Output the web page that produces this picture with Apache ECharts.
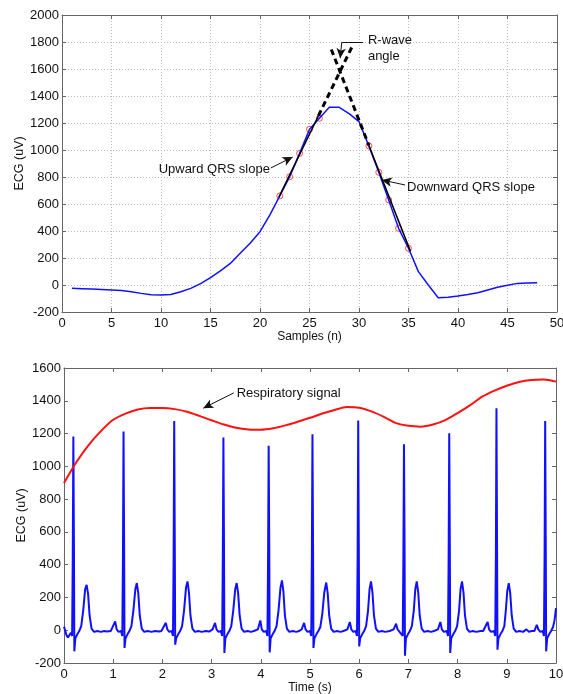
<!DOCTYPE html>
<html>
<head>
<meta charset="utf-8">
<script src="https://cdn.jsdelivr.net/npm/echarts@6/dist/echarts.min.js"></script>
<style>
  html, body { margin: 0; padding: 0; background: #fff; }
  #chart { width: 563px; height: 694px; }
</style>
</head>
<body>
<div id="chart"></div>
<script>
// top panel: one QRS complex, sample by sample
const sampleN = [1, 2, 3, 4, 5, 6, 7, 8, 9, 10, 11, 12, 13, 14, 15, 16, 17, 18, 19, 20, 21, 22, 23, 24,
  25, 26, 27, 28, 29, 30, 31, 32, 33, 34, 35, 36, 37, 38, 39, 40, 41, 42, 43, 44, 45, 46, 47, 48];
const sampleEcg = [-24, -27, -30, -33, -37, -41, -50, -62, -72, -74, -70, -50, -25, 10, 55, 105, 160, 235, 310, 395, 520, 660,
  802, 975, 1153, 1235, 1316, 1316, 1270, 1210, 1030, 835, 630, 420, 272, 99, 0, -94, -90, -81, -70, -57, -37, -17, -2, 12, 15, 17];

// red circles used for the slopes
const slopeN = [22, 23, 24, 25, 26, 31, 32, 33, 34, 35];
const slopeEcg = [660, 802, 975, 1153, 1235, 1030, 835, 630, 420, 272];

// fitted slope lines (end points in sample / uV)
const upSolid = [[21.9, 650], [25.9, 1253]];
const upDashed = [[25.9, 1253], [29.3, 1765]];
const downDashed = [[27.2, 1745], [31.0, 1034]];
const downSolid = [[31.0, 1034], [35.2, 249]];

// bottom panel: respiratory signal, every 0.25 s
const respTime = [0, 0.25, 0.5, 0.75, 1, 1.25, 1.5, 1.75, 2, 2.25, 2.5, 2.75, 3, 3.25, 3.5, 3.75, 4, 4.25, 4.5, 4.75,
  5, 5.25, 5.5, 5.75, 6, 6.25, 6.5, 6.75, 7, 7.25, 7.5, 7.75, 8, 8.25, 8.5, 8.75, 9, 9.25, 9.5, 9.75, 10];
const respValue = [898, 1025, 1130, 1215, 1284, 1322, 1347, 1356, 1356, 1349, 1333, 1308, 1281, 1255, 1235, 1225, 1223,
  1232, 1250, 1272, 1296, 1322, 1344, 1362, 1358, 1335, 1302, 1264, 1247, 1242, 1255, 1282, 1325, 1372, 1425, 1462,
  1492, 1515, 1527, 1530, 1517];

// bottom panel: ECG trace, [time s, uV], one line per beat
const ecgPoints = [
  [0, 22], [0.02, 18], [0.05, -30], [0.08, -45], [0.11, -38], [0.14, -15], [0.165, -35], [0.178, 450], [0.19, 1182], [0.202, 520], [0.21, -129], [0.23, -50], [0.27, -25], [0.31, -5], [0.35, 25], [0.39, 120], [0.43, 250], [0.46, 277], [0.49, 220], [0.52, 90], [0.56, 10], [0.61, -10], [0.68, -5], [0.75, -10], [0.82, -5], [0.87, -8],
  [0.95, -5], [0.99, 5], [1.04, 54], [1.07, 5], [1.11, -10], [1.16, -5], [1.185, -35], [1.198, 450], [1.21, 1212], [1.222, 520], [1.23, -108], [1.25, -50], [1.29, -25], [1.33, -5], [1.37, 25], [1.41, 120], [1.45, 250], [1.48, 288], [1.51, 225], [1.54, 90], [1.58, 10], [1.63, -10], [1.7, -5], [1.78, -10], [1.85, -5], [1.93, -8],
  [1.98, -5], [2.02, 5], [2.07, 45], [2.1, 5], [2.14, -10], [2.19, -5], [2.215, -35], [2.228, 450], [2.24, 1277], [2.252, 520], [2.26, -88], [2.28, -50], [2.32, -25], [2.36, -5], [2.4, 25], [2.44, 120], [2.48, 260], [2.51, 298], [2.54, 230], [2.57, 90], [2.61, 10], [2.66, -10], [2.73, -5], [2.8, -10], [2.88, -5], [2.95, -8],
  [2.98, -5], [3.02, 5], [3.07, 45], [3.1, 5], [3.14, -10], [3.19, -5], [3.215, -35], [3.228, 450], [3.24, 1176], [3.252, 520], [3.26, -139], [3.28, -50], [3.32, -25], [3.36, -5], [3.4, 25], [3.44, 120], [3.48, 250], [3.51, 288], [3.54, 225], [3.57, 90], [3.61, 10], [3.66, -10], [3.73, -5], [3.8, -10], [3.86, -5],
  [3.9, -5], [3.94, 5], [3.99, 60], [4.02, 5], [4.06, -10], [4.11, -5], [4.135, -35], [4.148, 450], [4.16, 1125], [4.172, 520], [4.18, -135], [4.2, -50], [4.24, -25], [4.28, -5], [4.32, 25], [4.36, 120], [4.4, 260], [4.43, 304], [4.46, 235], [4.49, 90], [4.53, 10], [4.58, -10], [4.65, -5], [4.72, -10], [4.78, -5],
  [4.79, -5], [4.83, 5], [4.88, 45], [4.91, 5], [4.95, -10], [5.0, -5], [5.025, -35], [5.038, 450], [5.05, 1196], [5.062, 520], [5.07, -108], [5.09, -50], [5.13, -25], [5.17, -5], [5.21, 20], [5.25, 100], [5.29, 230], [5.33, 291], [5.36, 225], [5.39, 90], [5.43, 10], [5.48, -10], [5.55, -5], [5.62, -10], [5.68, -5],
  [5.72, -5], [5.76, 5], [5.81, 50], [5.84, 5], [5.88, -10], [5.93, -5], [5.955, -35], [5.968, 450], [5.98, 1279], [5.992, 520], [6.0, -99], [6.02, -50], [6.06, -25], [6.1, -5], [6.14, 25], [6.18, 120], [6.21, 250], [6.24, 298], [6.27, 230], [6.3, 90], [6.34, 10], [6.39, -10], [6.46, -5], [6.53, -10], [6.62, -5],
  [6.66, -5], [6.7, 5], [6.75, 40], [6.78, 5], [6.82, -10], [6.86, -5], [6.885, -35], [6.898, 450], [6.91, 1135], [6.922, 520], [6.93, -155], [6.95, -50], [6.99, -25], [7.03, -5], [7.07, 25], [7.11, 120], [7.14, 250], [7.17, 298], [7.2, 230], [7.23, 90], [7.27, 10], [7.32, -10], [7.39, -5], [7.46, -10], [7.52, -5],
  [7.56, -5], [7.6, 5], [7.65, 50], [7.68, 5], [7.72, -10], [7.78, -5], [7.805, -35], [7.818, 450], [7.83, 1202], [7.842, 520], [7.85, -139], [7.87, -50], [7.91, -25], [7.95, -5], [7.99, 25], [8.03, 120], [8.06, 250], [8.09, 298], [8.12, 230], [8.15, 90], [8.19, 10], [8.24, -10], [8.31, -5], [8.38, -10], [8.47, -5],
  [8.52, -5], [8.56, 5], [8.61, 50], [8.64, 5], [8.68, -10], [8.74, -5], [8.765, -35], [8.778, 450], [8.79, 1355], [8.802, 520], [8.81, -119], [8.83, -50], [8.87, -25], [8.91, -5], [8.95, 25], [8.98, 120], [9.01, 240], [9.04, 287], [9.07, 225], [9.1, 90], [9.14, 10], [9.19, -10], [9.26, -5], [9.33, -10], [9.4, 5], [9.45, -10], [9.5, -5],
  [9.56, -5], [9.61, 33], [9.64, 5], [9.68, -10], [9.73, -5], [9.755, -35], [9.768, 450], [9.78, 1277], [9.792, 520], [9.8, -129], [9.82, -50], [9.86, -25], [9.9, -5], [9.94, 20], [9.97, 60], [10.0, 135]
];

const FONT = "Liberation Sans";
const AXIS_COLOR = "#666";

const chart = echarts.init(document.getElementById("chart"));

// matlab-like box axis: ticks inside, labels only on bottom/left
const axis = (gridIndex, position, min, max, interval, extra) => Object.assign({
  type: "value",
  gridIndex,
  position,
  min,
  max,
  interval,
  axisLine: { show: true, onZero: false, lineStyle: { color: AXIS_COLOR, width: 1 } },
  axisTick: { show: true, inside: true, length: 4, lineStyle: { color: AXIS_COLOR } },
  axisLabel: { show: false },
  splitLine: { show: false }
}, extra);

const labelStyle = (margin) => ({
  show: true,
  color: "#111",
  fontFamily: FONT,
  fontSize: 13,
  margin,
  formatter: v => String(v)
});

const gridLines = { show: true, lineStyle: { color: "#bbb", type: [1, 2], width: 1 } };

const yName = {
  name: "ECG (uV)",
  nameLocation: "middle",
  nameRotate: 90,
  nameMoveOverlap: false,
  nameGap: 36,
  nameTextStyle: { color: "#111", fontFamily: FONT, fontSize: 12.5 }
};

const option = {
  animation: false,
  backgroundColor: "#fff",
  textStyle: { fontFamily: FONT },
  grid: [
    { left: 62, top: 15, width: 495, height: 297, outerBoundsMode: "none" },
    { left: 64, top: 368, width: 492, height: 295, outerBoundsMode: "none" }
  ],
  xAxis: [
    axis(0, "bottom", 0, 50, 5, {
      axisLabel: labelStyle(5),
      splitLine: gridLines,
      name: "Samples (n)",
      nameLocation: "middle",
      nameGap: 16,
      nameTextStyle: { color: "#111", fontFamily: FONT, fontSize: 12 }
    }),
    axis(1, "bottom", 0, 10, 1, {
      axisLabel: labelStyle(5),
      name: "Time (s)",
      nameLocation: "middle",
      nameGap: 17,
      nameTextStyle: { color: "#111", fontFamily: FONT, fontSize: 12 }
    }),
    axis(0, "top", 0, 50, 5),
    axis(1, "top", 0, 10, 1)
  ],
  yAxis: [
    axis(0, "left", -200, 2000, 200, Object.assign({ axisLabel: labelStyle(3), splitLine: gridLines }, yName)),
    axis(1, "left", -200, 1600, 200, Object.assign({ axisLabel: labelStyle(3) }, yName)),
    axis(0, "right", -200, 2000, 200),
    axis(1, "right", -200, 1600, 200)
  ],
  series: [
    {
      name: "ECG samples",
      type: "line",
      xAxisIndex: 0,
      yAxisIndex: 0,
      data: sampleN.map((n, i) => [n, sampleEcg[i]]),
      showSymbol: false,
      lineStyle: { color: "#1010ff", width: 1.5 },
      markLine: {
        silent: true,
        symbol: ["none", "arrow"],
        symbolSize: [7, 10],
        label: { show: false },
        lineStyle: { color: "#111", width: 1, type: "solid" },
        data: [
          [{ coord: [30.4, 1795] }, { coord: [28.25, 1795], symbol: "none" }],
          [{ coord: [28.25, 1795] }, { coord: [28.1, 1680] }],
          [{ coord: [21.1, 867] }, { coord: [23.3, 948] }],
          [{ coord: [34.65, 741] }, { coord: [32.3, 778] }]
        ]
      }
    },
    {
      type: "line", xAxisIndex: 0, yAxisIndex: 0, data: upSolid, showSymbol: false,
      lineStyle: { color: "#000", width: 1.5 }
    },
    {
      type: "line", xAxisIndex: 0, yAxisIndex: 0, data: downSolid, showSymbol: false,
      lineStyle: { color: "#000", width: 1.5 }
    },
    {
      type: "line", xAxisIndex: 0, yAxisIndex: 0, data: upDashed, showSymbol: false,
      lineStyle: { color: "#000", width: 3, type: [6, 4] }
    },
    {
      type: "line", xAxisIndex: 0, yAxisIndex: 0, data: downDashed, showSymbol: false,
      lineStyle: { color: "#000", width: 3, type: [6, 4] }
    },
    {
      type: "scatter",
      xAxisIndex: 0,
      yAxisIndex: 0,
      data: slopeN.map((n, i) => [n, slopeEcg[i]]),
      symbol: "circle",
      symbolSize: 6,
      itemStyle: { color: "rgba(0,0,0,0)", borderColor: "#ff2020", borderWidth: 1 }
    },
    {
      name: "ECG",
      type: "line",
      xAxisIndex: 1,
      yAxisIndex: 1,
      data: ecgPoints,
      showSymbol: false,
      lineStyle: { color: "#1010ff", width: 2 }
    },
    {
      name: "Respiratory signal",
      type: "line",
      xAxisIndex: 1,
      yAxisIndex: 1,
      data: respTime.map((t, i) => [t, respValue[i]]),
      smooth: 0.3,
      showSymbol: false,
      lineStyle: { color: "#ff1010", width: 2 },
      markLine: {
        silent: true,
        symbol: ["none", "arrow"],
        symbolSize: [7, 10],
        label: { show: false },
        lineStyle: { color: "#111", width: 1, type: "solid" },
        data: [
          [{ coord: [3.45, 1448] }, { coord: [2.83, 1355] }]
        ]
      }
    }
  ]
};

chart.setOption(option);

// annotation texts placed in data space
const notes = [
  { axes: 0, at: [30.9, 1815], text: "R-wave", align: "left" },
  { axes: 0, at: [30.9, 1696], text: "angle", align: "left" },
  { axes: 0, at: [21.0, 859], text: "Upward QRS slope", align: "right" },
  { axes: 0, at: [34.85, 726], text: "Downward QRS slope", align: "left" },
  { axes: 1, at: [3.51, 1442], text: "Respiratory signal", align: "left" }
];

chart.setOption({
  graphic: notes.map(n => {
    const [x, y] = chart.convertToPixel({ xAxisIndex: n.axes, yAxisIndex: n.axes }, n.at);
    return {
      type: "text",
      x,
      y,
      silent: true,
      style: {
        text: n.text,
        fill: "#111",
        font: "13px '" + FONT + "'",
        align: n.align,
        verticalAlign: "middle"
      }
    };
  })
});
</script>
</body>
</html>
